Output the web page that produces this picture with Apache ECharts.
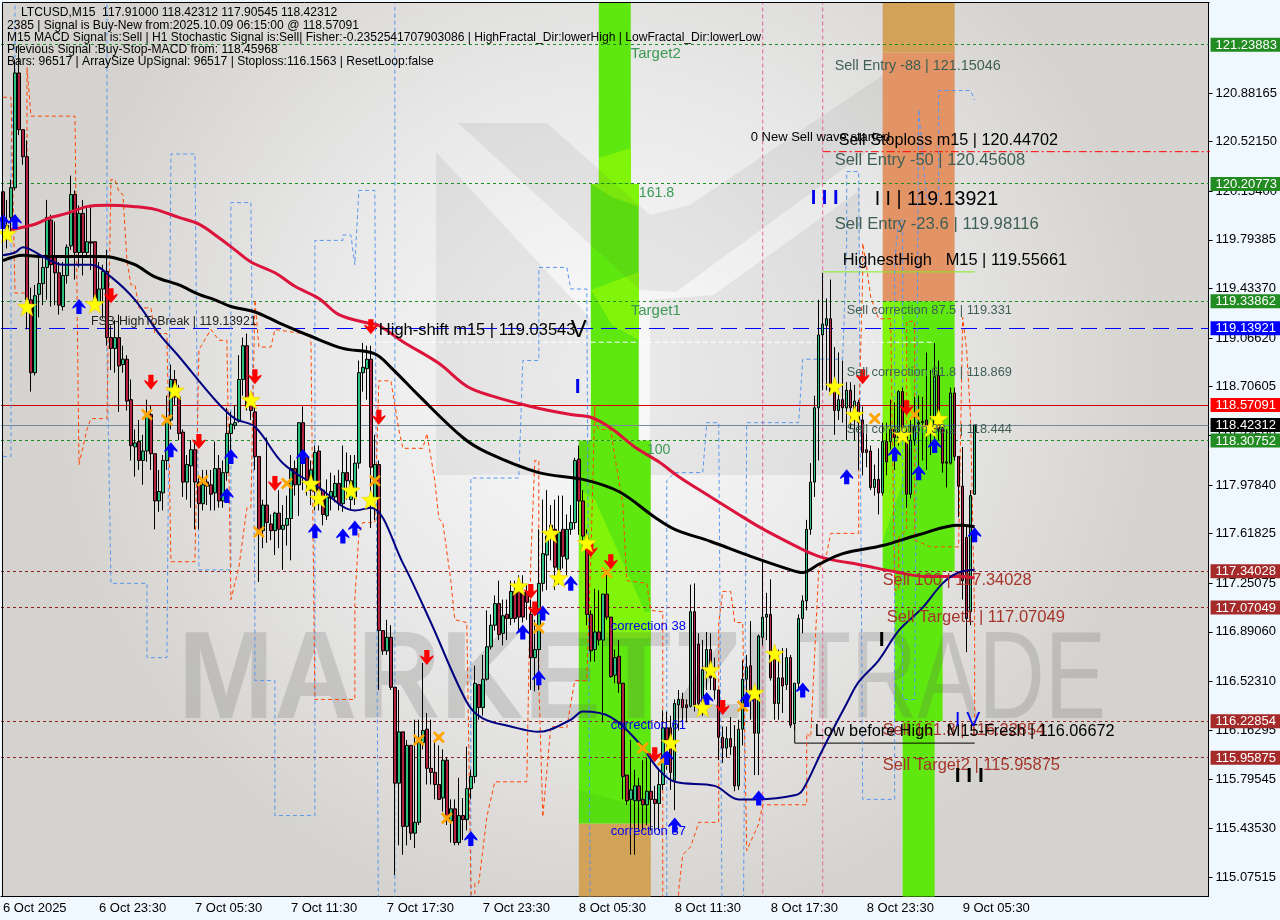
<!DOCTYPE html>
<html><head><meta charset="utf-8">
<style>html,body{margin:0;padding:0;background:#f0f8ff}#c{width:1280px;height:920px}</style>
<script src="https://cdn.jsdelivr.net/npm/echarts@6/dist/echarts.min.js"></script>
</head><body><div id="c"></div>
<script>
// [open, close, low, high], one per 15-minute bar
const candles=[
[120.15,119.96,119.83,120.42],[119.83,119.90,119.73,120.09],[119.96,120.18,119.79,120.24],[120.18,121.03,120.16,121.13],[121.03,120.61,120.57,121.24],[120.61,120.41,120.35,120.61],[120.41,119.35,119.13,120.53],[119.35,118.81,118.67,119.44],[118.81,119.38,118.79,119.46],[119.39,119.47,119.22,119.68],
[119.47,119.59,119.31,119.68],[119.59,119.96,119.35,120.09],[119.94,119.61,119.30,119.98],[119.67,119.55,119.31,119.93],[119.55,119.31,119.24,119.63],[119.30,119.53,119.27,119.63],[119.53,119.74,119.47,119.76],[119.75,120.13,119.72,120.27],[120.13,119.70,119.50,120.16],[119.70,119.99,119.59,120.05],
[119.99,119.70,119.53,120.09],[119.70,119.78,119.68,120.03],[119.78,119.77,119.57,120.05],[119.78,119.36,119.31,119.78],[119.33,119.43,119.29,119.63],[119.43,119.56,119.21,119.61],[119.56,119.07,119.01,119.72],[119.07,118.99,118.83,119.16],[118.99,119.07,118.81,119.20],[119.07,118.86,118.52,119.24],
[118.87,118.91,118.81,119.01],[118.91,118.60,118.53,118.94],[118.61,118.27,118.16,118.76],[118.26,118.29,118.04,118.39],[118.30,118.16,118.09,118.46],[118.16,118.23,117.98,118.35],[118.23,118.51,118.15,118.61],[118.50,118.21,118.09,118.57],[118.21,117.86,117.65,118.21],[117.86,117.93,117.78,118.09],
[117.92,118.16,117.79,118.20],[118.16,118.46,118.09,118.64],[118.46,118.76,118.39,118.87],[118.76,118.63,118.57,118.83],[118.63,118.36,118.31,118.72],[118.37,118.00,117.89,118.39],[118.00,118.13,117.87,118.20],[118.12,118.24,117.81,118.31],[118.24,118.00,117.65,118.31],[118.00,117.84,117.65,118.03],
[117.84,117.98,117.79,118.09],[118.00,117.97,117.83,118.09],[117.98,117.91,117.79,118.09],[117.92,118.10,117.79,118.30],[118.10,117.86,117.81,118.20],[117.86,118.07,117.81,118.16],[118.07,118.36,118.01,118.55],[118.36,118.43,118.18,118.52],[118.42,118.44,118.39,118.57],[118.45,118.76,118.44,118.94],
[118.76,119.01,118.64,119.07],[119.01,118.56,118.53,119.10],[118.61,118.53,118.46,118.62],[118.52,118.19,118.09,118.61],[118.19,117.64,117.26,118.19],[117.64,117.83,117.51,117.87],[117.83,117.70,117.55,118.33],[117.69,117.64,117.57,117.76],[117.64,117.77,117.46,117.78],[117.77,117.65,117.51,117.94],
[117.65,117.68,117.35,117.83],[117.68,117.73,117.53,117.90],[117.73,118.10,117.42,118.20],[118.10,117.98,117.90,118.16],[117.98,118.44,117.75,118.44],[118.44,118.17,117.94,118.56],[118.18,117.99,117.90,118.18],[117.94,118.09,117.83,118.16],[117.93,118.22,117.79,118.27],[118.23,117.94,117.79,118.27],
[117.94,117.76,117.68,117.94],[117.75,117.89,117.72,118.02],[117.88,117.93,117.79,118.07],[117.89,117.99,117.85,118.05],[117.99,117.84,117.79,118.09],[117.84,118.07,117.78,118.27],[118.07,118.01,117.87,118.22],[117.87,118.01,117.79,118.20],[117.89,118.14,117.83,118.20],[118.14,118.81,118.10,118.90],
[118.81,118.85,118.67,119.03],[118.84,118.91,118.61,119.01],[118.91,118.11,117.66,119.01],[117.87,118.13,117.72,118.35],[118.13,116.90,116.46,118.16],[116.90,116.75,116.72,116.90],[116.75,116.85,116.72,116.98],[116.85,116.48,116.46,116.94],[116.48,115.77,115.09,116.48],[115.77,116.15,115.31,116.46],
[116.15,115.45,115.24,116.15],[115.45,116.05,115.31,116.09],[116.05,115.40,115.35,116.05],[115.40,115.48,115.29,116.24],[115.48,116.07,115.46,116.24],[116.07,116.16,116.02,116.66],[116.17,115.88,115.76,116.29],[115.88,115.85,115.76,116.24],[115.85,115.76,115.65,116.09],[115.76,115.65,115.65,116.05],
[115.66,115.94,115.56,116.02],[115.94,115.52,115.46,115.96],[115.49,115.58,115.33,115.65],[115.58,115.33,115.31,115.65],[115.33,115.53,115.31,115.81],[115.53,115.50,115.35,115.66],[115.50,115.73,115.42,116.04],[115.73,115.82,115.65,115.87],[115.82,116.51,115.77,116.64],[116.50,116.33,116.24,116.50],
[116.33,116.54,116.27,116.72],[116.54,116.78,116.53,117.05],[116.78,116.94,116.76,117.02],[116.94,117.10,116.90,117.16],[117.10,116.87,116.83,117.27],[116.88,117.01,116.79,117.13],[117.02,116.99,116.83,117.13],[116.99,117.19,116.94,117.27],[117.19,116.99,116.96,117.27],[117.22,117.00,116.90,117.31],
[117.18,117.00,116.96,117.31],[117.19,117.11,116.98,117.24],[117.02,116.70,116.46,117.13],[116.70,116.76,116.45,116.98],[116.76,117.25,116.46,117.65],[117.25,117.47,117.19,117.87],[117.46,117.60,117.20,117.94],[117.60,117.68,117.42,117.83],[117.65,117.37,117.20,117.87],[117.35,117.63,117.24,117.90],
[117.65,117.45,117.36,117.90],[117.43,117.65,117.31,117.76],[117.65,117.70,117.61,117.83],[117.70,118.16,117.65,118.18],[118.17,117.86,117.61,118.27],[117.86,117.60,117.53,117.94],[117.59,117.02,116.94,117.65],[117.02,116.75,116.67,117.05],[116.76,116.89,116.67,117.21],[116.89,116.83,116.79,117.20],
[116.83,117.17,116.22,117.17],[117.17,117.00,116.98,117.35],[117.00,116.56,116.55,117.00],[116.57,116.70,116.51,116.76],[116.71,116.51,116.44,116.83],[116.51,115.82,115.65,116.51],[115.83,115.64,115.61,115.83],[115.65,115.72,115.24,116.09],[115.64,115.75,115.24,115.87],[115.75,115.64,115.42,115.81],
[115.65,115.61,115.42,115.94],[115.61,115.71,115.46,115.96],[115.71,115.65,115.42,115.99],[115.65,115.62,115.42,115.75],[115.62,115.76,115.42,115.88],[115.76,116.18,115.72,116.31],[116.18,116.09,115.87,116.30],[116.18,115.85,115.72,116.27],[115.79,116.36,115.57,116.39],[116.35,116.39,116.16,116.46],
[116.39,116.33,116.18,116.44],[116.35,116.33,116.22,116.39],[116.34,117.04,116.33,117.24],[117.04,116.35,116.30,117.25],[116.80,116.36,116.31,116.88],[116.36,116.61,116.27,116.83],[116.61,116.76,116.46,116.89],[116.76,116.55,116.46,116.88],[116.55,116.46,116.39,116.70],[116.46,116.11,115.94,116.46],
[116.11,116.03,115.92,116.19],[116.03,116.10,115.96,116.19],[116.10,116.04,115.98,116.26],[116.04,115.75,115.71,116.20],[115.75,116.17,115.72,116.24],[116.17,116.54,116.05,116.68],[116.54,116.63,116.39,116.72],[116.64,116.44,116.24,116.97],[116.44,116.14,115.83,116.48],[116.14,116.86,115.83,116.87],
[116.85,117.00,116.79,117.42],[117.00,117.02,116.83,117.18],[117.02,116.55,116.53,117.28],[116.72,116.36,116.24,116.79],[116.36,116.55,116.24,116.76],[116.55,116.49,116.29,116.77],[116.50,116.70,116.46,116.77],[116.70,116.20,116.18,116.72],[116.21,116.51,116.16,116.51],[116.51,116.99,116.46,117.02],
[116.99,117.12,116.88,117.16],[117.12,117.65,117.05,117.72],[117.65,118.00,117.61,118.14],[118.00,118.55,117.89,118.64],[118.55,119.09,118.16,119.35],[119.09,119.17,118.68,119.55],[119.16,119.21,118.68,119.36],[119.21,118.67,118.65,119.50],[118.67,118.53,118.35,119.00],[118.53,118.61,118.46,118.96],
[118.61,118.55,118.44,118.90],[118.55,118.68,118.31,118.74],[118.68,118.55,118.39,118.74],[118.46,118.60,118.31,118.72],[118.59,118.44,118.09,118.61],[118.46,118.22,118.05,118.56],[118.24,118.22,118.11,118.36],[118.23,117.96,117.94,118.27],[117.96,118.02,117.90,118.13],[118.02,117.92,117.76,118.25],
[117.92,118.30,117.90,118.44],[118.30,118.15,118.05,118.44],[118.30,118.39,118.24,118.61],[118.39,118.33,118.09,118.59],[118.33,118.67,118.27,118.68],[118.67,118.36,118.31,118.70],[118.36,117.91,117.81,118.39],[117.91,118.31,117.88,118.46],[118.31,118.41,118.27,118.63],[118.43,118.44,118.09,118.64],
[118.45,118.44,118.16,118.63],[118.46,118.40,118.09,118.96],[118.41,118.38,118.20,118.83],[118.40,118.78,118.31,119.03],[118.79,118.39,118.31,118.90],[118.40,118.14,118.07,118.46],[118.15,118.14,117.96,118.39],[118.14,118.66,118.13,118.70],[118.66,118.19,118.16,118.70],[118.19,117.97,117.74,118.19],
[117.97,117.27,117.13,118.26],[117.59,116.99,116.74,117.68],[117.04,117.90,116.94,117.94],[117.91,118.42312,117.90545,118.42312]];
// moving averages as [bar, price]
const maRed=[[2,119.87],[8,119.91],[12,119.96],[16,119.99],[21,120.04],[26,120.05],[33,120.04],[38,120.02],[44,119.96],[49,119.91],[54,119.81],[58,119.72],[62,119.63],[68,119.55],[73,119.45],[79,119.36],[84,119.24],[91,119.18],[94,119.16],[100,119.04],[109,118.88],[116,118.71],[122,118.64],[132,118.56],[142,118.50],[147,118.48],[152,118.40],[158,118.26],[164,118.15],[169,118.04],[177,117.89],[184,117.76],[189,117.67],[194,117.59],[200,117.50],[204,117.45],[208,117.42],[214,117.39],[224,117.33],[231,117.30],[239,117.30],[243,117.29]];
const maBlack=[[0,119.64],[5,119.68],[10,119.67],[24,119.67],[28,119.66],[33,119.61],[38,119.52],[44,119.46],[49,119.39],[53,119.35],[57,119.30],[63,119.26],[69,119.18],[77,119.08],[85,118.99],[93,118.95],[97,118.85],[104,118.64],[115,118.33],[121,118.22],[134,118.07],[145,118.02],[154,117.93],[163,117.74],[168,117.65],[177,117.56],[187,117.45],[197,117.35],[200,117.33],[204,117.39],[210,117.47],[220,117.53],[229,117.61],[239,117.68],[243,117.67]];
const maNavy=[[0,119.68],[3,119.70],[5,119.74],[7,119.72],[10,119.67],[15,119.61],[22,119.61],[27,119.52],[33,119.35],[39,119.10],[44,118.93],[53,118.61],[58,118.47],[63,118.41],[70,118.14],[79,117.96],[88,117.79],[92,117.81],[100,117.40],[107,116.96],[116,116.37],[120,116.25],[127,116.19],[134,116.15],[142,116.24],[145,116.30],[152,116.26],[159,116.07],[164,115.87],[168,115.78],[178,115.75],[184,115.65],[189,115.65],[198,115.68],[200,115.72],[205,116.02],[211,116.36],[214,116.52],[219,116.68],[224,116.90],[230,117.07],[235,117.25],[239,117.33],[243,117.35]];
// stepped fractal channels; 122.5 and 114 run off the visible range
const stepBlue=[[0,118.19],[2,118.19],[2,120.46],[3,121.03],[3,122.5],[26,122.5],[26,118.98],[27,117.25],[36,117.25],[36,116.70],[41,116.70],[42,120.43],[48,120.43],[49,117.35],[57,117.35],[57,120.07],[62,120.07],[63,117.13],[63,116.53],[68,116.53],[68,115.53],[78,115.53],[78,119.79],[85,119.79],[85,119.83],[87,119.83],[88,119.61],[89,120.16],[93,120.16],[94,114],[98,114],[98,122.5],null,[117,114],[117,118.03],[129,118.03],[130,118.90],[134,118.90],[134,119.59],[141,119.59],[142,119.43],[146,119.43],[147,114],[166,114],[166,118.01],[168,118.07],[175,118.07],[176,118.44],[179,118.44],[180,114],[185,114],[186,118.44],[199,118.44],[200,118.91],[210,118.91],[211,119.77],[211,120.30],[214,120.30],[215,115.65],[223,115.65],[223,119.64],[224,119.94],[225,119.94],[225,116.39],[228,116.39],[229,120.76],[231,120.09],[234,120.09],[234,120.90],[242,120.90],[243,120.83]];
const stepOrange=[[0,120.85],[2,120.85],[3,119.40],[6,119.40],[6,121.07],[7,120.71],[18,120.71],[19,118.13],[21,118.39],[22,118.47],[26,118.47],[27,120.24],[28,120.24],[29,120.15],[30,120.13],[31,119.64],[32,119.46],[33,119.46],[34,119.29],[37,119.29],[38,119.10],[41,119.10],[42,117.41],[48,117.41],[49,118.98],[52,119.13],[54,119.05],[56,119.05],[57,117.13],[59,117.37],[61,117.81],[62,117.81],[63,119.35],[64,119.00],[67,119.00],[68,119.13],[77,119.09],[78,116.39],[88,116.39],[88,117.13],[89,117.62],[90,117.70],[93,117.70],[94,118.75],[97,118.75],[99,118.39],[100,118.25],[105,118.25],[106,118.36],[108,118.01],[109,117.73],[110,117.70],[112,117.27],[113,116.98],[116,116.96],[117,115.05],[118,114],[118,115.03],[119,115.03],[121,115.52],[123,115.78],[131,115.78],[132,117.42],[133,118.16],[134,118.16],[134,116.53],[135,115.52],[137,116.19],[141,116.18],[142,116.36],[143,116.53],[146,116.53],[147,117.42],[148,118.57],[148,118.46],[149,118.39],[152,118.39],[153,118.19],[155,117.84],[156,117.27],[161,117.25],[162,117.05],[165,117.04],[165,114],[168,114],[169,114.98],[170,115.24],[172,115.30],[174,115.48],[179,115.48],[179,116.96],[180,117.19],[182,117.19],[183,116.96],[185,116.96],[186,115.27],[189,115.47],[190,115.61],[201,115.61],[201,116.14],[202,116.11],[204,117.35],[206,117.47],[207,117.62],[214,117.62],[214,118.41],[215,119.52],[215,119.77],[216,119.59],[217,119.37],[219,119.21],[222,119.21],[223,117.20],[224,117.20],[224,117.59],[226,117.65],[226,119.19],[228,119.19],[228,117.57],[232,117.52],[239,117.52],[240,119.22],[241,118.98],[242,118.46],[243,117.00],[243,116.16]];
const pinkBars=[190,205];
// signals as [bar, price]
const stars=[[1,119.84],[6,119.30],[23,119.32],[43,118.68],[62,118.61],[77,117.99],[79,117.88],[87,117.94],[92,117.87],[129,117.23],[137,117.62],[139,117.29],[146,117.55],[167,116.07],[177,116.61],[175,116.33],[188,116.44],[193,116.73],[208,118.71],[213,118.50],[225,118.35],[232,118.40],[234,118.47]];
const upArrows=[[0,119.93],[3,119.93],[19,119.30],[42,118.24],[57,118.19],[56,117.90],[75,118.19],[78,117.64],[85,117.60],[88,117.66],[117,115.36],[130,116.89],[134,116.55],[135,117.03],[142,117.25],[168,115.46],[176,116.39],[186,116.39],[166,115.96],[189,115.66],[200,116.46],[211,118.04],[223,118.21],[229,118.07],[233,118.27],[243,117.61]];
const downArrows=[[27,119.38],[37,118.74],[49,118.30],[63,118.78],[68,117.99],[92,119.15],[94,118.48],[106,116.70],[132,117.19],[133,117.06],[147,117.50],[152,117.41],[163,115.98],[180,116.33],[215,118.78],[226,118.55]];
const crosses=[[36,118.50],[41,118.46],[50,118.01],[64,117.63],[71,117.99],[93,118.01],[104,116.09],[109,116.11],[111,115.51],[134,116.92],[151,117.33],[160,116.03],[165,115.94],[185,116.34],[218,118.47],[228,118.50]];
// levels
const greenLevels=[121.23883,120.20773,119.33862,118.30752];
const brownLevels=[117.34028,117.07049,116.22854,115.95875];
const blueLevel=119.13921, redLevel=118.57091, lastPrice=118.42312;
const stopLine=[[205,120.44702],[302,120.44702]];
const whiteLine=[[91,119.03543],[233,119.03543]];
const limeLine=[[205,119.55661],[243,119.55661]];
const blackLine=[[198,116.20],[198,116.06672],[243,116.06672]];
// price zones: startBar, endBar, high, low, colour
const G='#5fe80f',TAN='#d1a257',ORG='#e29467';
const zones=[[149,157,121.55,120.20773,G],[147,159,120.20773,118.30752,G],[144,162,118.30752,115.47,G],[144,162,115.47,114.93,TAN],
[220,238,121.55,121.18,TAN],[220,238,121.18,119.33862,ORG],[220,238,119.33862,117.34028,G],[223,235,117.34028,116.22854,G],[225,233,116.22854,114.93,G]];
// axis text
const yTicks=[120.88165,120.5215,120.154,119.79385,119.4337,119.0662,118.70605,118.3459,117.9784,117.61825,117.25075,116.8906,116.5231,116.16295,115.79545,115.4353,115.07515];
const xTicks={0:'6 Oct 2025',24:'6 Oct 23:30',48:'7 Oct 05:30',72:'7 Oct 11:30',96:'7 Oct 17:30',120:'7 Oct 23:30',144:'8 Oct 05:30',168:'8 Oct 11:30',192:'8 Oct 17:30',216:'8 Oct 23:30',240:'9 Oct 05:30'};
// right-hand price tags
const tags=[[121.23883,'#228b22'],[120.20773,'#228b22'],[119.33862,'#228b22'],[119.13921,'#0000ff'],[118.57091,'#ff0000'],[118.42312,'#000000'],[118.30752,'#228b22'],[117.34028,'#a52a2a'],[117.07049,'#a52a2a'],[116.22854,'#a52a2a'],[115.95875,'#a52a2a']];
// chart annotations: text, bar, price, colour, size
const SL='#3f5f55',BR='#a5352a',GN='#3d9a55',BL='#0000ee',K='#000';
const notes=[
['Sell Entry -88 | 121.15046',208,121.08,SL,14.4],['0 New Sell wave started',187,120.55,K,13],['Sell Stoploss m15 | 120.44702',209,120.53,K,16.2],['Sell Entry -50 | 120.45608',208,120.38,SL,16.5],
['I I I',202,120.10,BL,20,'bold '],['I I | 119.13921',218,120.09,K,19.6],['Sell Entry -23.6 | 119.98116',208,119.91,SL,16.7],['HighestHigh   M15 | 119.55661',210,119.64,K,16.4],
['Sell correction 87.5 | 119.331',211,119.27,SL,12.8],['Sell correction 61.8 | 118.869',211,118.81,SL,12.8],['Sell correction 38.2 | 118.444',211,118.39,SL,12.8],
['FSB-HighToBreak | 119.13921',22,119.19,'#222',12.3],['High-shift m15 | 119.03543',94,119.12,K,16.5],['V',142,119.12,K,24],['I',143,118.70,BL,21,'bold '],
['Target2',157,121.17,GN,15],['161.8',159,120.14,GN,14.2],['Target1',157,119.27,GN,15],['100',161,118.24,GN,14.2],
['correction 38',152,116.93,BL,13],['correction 61',152,116.20,BL,13],['correction 87',152,115.41,BL,13],
['Sell 100 | 117.34028',220,117.27,BR,16.4],['Sell Target1 | 117.07049',221,117.00,BR,16.6],['Sell 161.8 | 116.22854',220,116.16,BR,16.4],['Low before High   M15-Fresh | 116.06672',203,116.15,K,16.3],['Sell Target2 | 115.95875',220,115.90,BR,16.5],
['I I I',238,115.82,K,21,'bold '],['I',219,116.83,K,21,'bold '],['I V',238,116.24,BL,21]];
const headerLines=[['LTCUSD,M15  117.91000 118.42312 117.90545 118.42312',21,13],['2385 | Signal is Buy-New from:2025.10.09 06:15:00 @ 118.57091',7,26],['M15 MACD Signal is:Sell | H1 Stochastic Signal is:Sell| Fisher:-0.2352541707903086 | HighFractal_Dir:lowerHigh | LowFractal_Dir:lowerLow',7,38],['Previous Signal :Buy-Stop-MACD from: 118.45968',7,50],['Bars: 96517 | ArraySize UpSignal: 96517 | Stoploss:116.1563 | ResetLoop:false',7,62]];

const categories=Array.from({length:302},(_,i)=>xTicks[i]||String(i));
const FONT='"Liberation Sans",Arial,sans-serif';
const tp=(pts,z,fill)=>({type:'polygon',z,silent:true,shape:{points:pts},style:{fill}});
const LOGO='rgba(60,60,60,0.075)';
const WM='rgba(90,90,90,0.2)';
const decor=[
 {type:'rect',z:0,silent:true,shape:{x:3,y:3,width:1206,height:893},style:{fill:{type:'radial',x:0.5,y:0.42,r:0.62,colorStops:[{offset:0,color:'#fbfbfb'},{offset:0.55,color:'#e8e8e8'},{offset:1,color:'#d5d3cf'}]}}},
 tp([[579,490],[595,500],[645,612],[651,612],[651,638],[579,638]],2,'#80f50a'),
 tp([[599,158],[631,148],[631,183],[599,183]],2,'#80f50a'),
 tp([[591,184],[639,184],[639,207],[612,197]],2,'#80f50a'),
 tp([[591,290],[639,272],[639,340],[612,325]],2,'#80f50a'),
 tp([[883,302],[900,302],[915,420],[900,490],[883,540]],2,'#80f50a'),
 tp([[579,823],[651,823],[651,810],[579,790]],2,'#58dd10'),
 tp([[458,123],[547,123],[650,215],[690,205],[883,75],[883,140],[676,292],[640,290]],3,LOGO),
 tp([[436,152],[590,318],[590,475],[436,475]],3,LOGO),
 tp([[650,300],[713,295],[860,190],[860,475],[650,475]],3,LOGO),
 {type:'text',z:3,silent:true,x:178,y:622,scaleX:0.93,style:{text:'MARKETZI',font:'bold 124px '+FONT,fill:WM}},
 {type:'text',z:3,silent:true,x:795,y:622,scaleX:0.74,style:{text:'TRADE',font:'124px '+FONT,fill:WM}},
 {type:'line',z:30,silent:true,shape:{x1:2.5,y1:2.5,x2:1209.5,y2:2.5},style:{stroke:'#000',lineWidth:1}},
 {type:'line',z:30,silent:true,shape:{x1:2.5,y1:2.5,x2:2.5,y2:896.5},style:{stroke:'#000',lineWidth:1}},
].concat(headerLines.map(h=>({type:'text',z:25,silent:true,x:h[1],y:h[2],style:{text:h[0],font:'12.1px '+FONT,fill:'#000',verticalAlign:'middle'}})));

const lineS=(data,color,width,z,type,smooth)=>({type:'line',data,z,symbol:'none',silent:true,animation:false,smooth:smooth||false,lineStyle:{color,width,type:type||'solid',cap:'butt'}});
const levelS=(vals,color,type,z)=>({type:'line',data:[],z,silent:true,symbol:'none',markLine:{silent:true,symbol:'none',animation:false,label:{show:false},lineStyle:{color,width:1,type},data:vals.map(v=>({yAxis:v}))}});
const mark=(data,path,size,color,z,border)=>({type:'scatter',data,z,symbol:path,symbolSize:size,silent:true,animation:false,itemStyle:{color,borderColor:border||color,borderWidth:border?0.5:0,opacity:1}});
const UP='path://M5 0 L10 7 L10 8.5 L7 6.5 L7 13 L3 13 L3 6.5 L0 8.5 L0 7 Z';
const DOWN='path://M3 0 L7 0 L7 6.5 L10 4.5 L10 6 L5 13 L0 6 L0 4.5 L3 6.5 Z';
const XP='path://M1.5 0 L5 3.2 L8.5 0 L10 1.5 L6.8 5 L10 8.5 L8.5 10 L5 6.8 L1.5 10 L0 8.5 L3.2 5 L0 1.5 Z';
const STAR='path://M50 0 L62 35 L100 36 L70 59 L81 95 L50 74 L19 95 L30 59 L0 36 L38 35 Z';

const chart=echarts.init(document.getElementById('c'),null,{renderer:'canvas'});
chart.setOption({
 animation:false,backgroundColor:'#f0f8ff',
 grid:{left:1,top:3,width:1208,height:893,show:false},
 graphic:{elements:decor},
 xAxis:{type:'category',data:categories,boundaryGap:true,
  axisLine:{lineStyle:{color:'#000',width:1}},
  axisTick:{alignWithLabel:true,length:4,interval:i=>xTicks[i]!==undefined,lineStyle:{color:'#000'}},
  axisLabel:{interval:i=>xTicks[i]!==undefined,align:'left',margin:6,color:'#000',fontFamily:FONT,fontSize:13,formatter:v=>v},
  splitLine:{show:false}},
 yAxis:{type:'value',position:'right',min:114.9344,max:121.5482,scale:true,
  axisLine:{show:true,lineStyle:{color:'#000',width:1}},
  axisTick:{show:true,length:4,customValues:yTicks,lineStyle:{color:'#000'}},
  axisLabel:{customValues:yTicks,margin:7,color:'#000',fontFamily:FONT,fontSize:13,formatter:v=>v.toFixed(5)},
  splitLine:{show:false}},
 series:[
  {type:'custom',z:1,silent:true,data:zones,renderItem:(p,api)=>{const z=zones[p.dataIndex],a=api.coord([z[0],z[2]]),b=api.coord([z[1],z[3]]);return {type:'rect',shape:{x:a[0],y:a[1],width:b[0]-a[0],height:b[1]-a[1]},style:{fill:z[4]}};}},
  levelS(greenLevels,'#228b22',[3,3],4),
  levelS(brownLevels,'#8b2323',[3,3],4),
  levelS([blueLevel],'#0000ff',[16,8],4),
  levelS([redLevel],'#d40000','solid',4),
  levelS([lastPrice],'#778899','solid',4),
  lineS(stopLine,'#ff0000',1,4,[8,3,2,3]),
  lineS(whiteLine,'#ffffff',1,4,[5,3]),
  lineS(limeLine,'#7fef1a',1,4),
  lineS(blackLine,'#000000',1,5),
  lineS(pinkBars.flatMap(b=>[[b,122.5],[b,114],null]),'#ec5f9c',1,4,[4,3]),
  lineS(stepBlue,'#5a96f0',1,5,[4,3]),
  lineS(stepOrange,'#ff4500',1,5,[4,3]),
  {type:'candlestick',data:candles,z:6,barWidth:3,silent:true,animation:false,itemStyle:{color:'#2fbf7f',color0:'#b2223f',borderColor:'#000',borderColor0:'#000',borderColorDoji:'#000',borderWidth:1}},
  lineS(maRed,'#dc143c',3,7,'solid',0.35),
  lineS(maBlack,'#000000',3,7,'solid',0.35),
  lineS(maNavy,'#000080',2,7,'solid',0.35),
  mark(crosses,XP,12,'#ffa500',8),
  mark(upArrows,UP,[13,15],'#0000ff',8),
  mark(downArrows,DOWN,[13,15],'#ff0000',8),
  mark(stars,STAR,[19,19],'#ffff00',9,'#e8c000'),
  {type:'custom',z:10,silent:true,data:notes,renderItem:(p,api)=>{const n=notes[p.dataIndex],c=api.coord([n[1],n[2]]);return {type:'text',style:{text:n[0],x:c[0],y:c[1],fill:n[3],font:(n[5]||'')+n[4]+'px '+FONT,align:'left',verticalAlign:'middle'}};}},
  {type:'custom',z:20,silent:true,clip:false,data:tags,renderItem:(p,api)=>{const t=tags[p.dataIndex],c=api.coord([0,t[0]]),g=p.coordSys.x+p.coordSys.width;return {type:'group',children:[
    {type:'rect',shape:{x:g+2,y:c[1]-7,width:71,height:14},style:{fill:t[1]}},
    {type:'text',style:{text:t[0].toFixed(5),x:g+7,y:c[1]+0.5,fill:'#fff',font:'13px '+FONT,align:'left',verticalAlign:'middle'}}]};}}
 ]
});
</script></body></html>
